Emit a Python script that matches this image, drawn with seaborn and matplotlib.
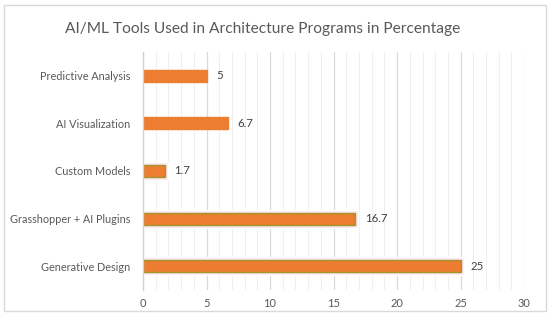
import seaborn as sns
import matplotlib.pyplot as plt
import pandas as pd
from matplotlib.patches import Rectangle
from matplotlib.ticker import MultipleLocator

tools = ["Predictive Analysis", "AI Visualization", "Custom Models",
         "Grasshopper + AI Plugins", "Generative Design"]
percent = [5, 6.7, 1.7, 16.7, 25]
value_labels = ["5", "6.7", "1.7", "16.7", "25"]
glow = [False, False, True, True, True]

df = pd.DataFrame({"tool": tools, "percent": percent})

sns.set_style("white")
plt.rcParams["font.family"] = ["Lato", "DejaVu Sans"]

fig = plt.figure(figsize=(5.5, 3.19), dpi=100)
ax = fig.add_axes([0.26, 0.091, 0.693, 0.746])

# faint pink glow behind some bars
sns.barplot(data=df, x="percent", y="tool", orient="h", color="#fde6f0",
            width=0.38, saturation=1, ax=ax, zorder=1)
for p, g in zip(ax.patches, glow):
    p.set_visible(g)
    p.set_width(p.get_width() + 0.25)
n_glow = len(ax.patches)

sns.barplot(data=df, x="percent", y="tool", orient="h", color="#ed7d31",
            width=0.25, saturation=1, ax=ax, zorder=2)
for p, g in zip(ax.patches[n_glow:], glow):
    p.set_edgecolor("#a0962c" if g else "#ed7d31")
    p.set_linewidth(1.0)

for i, (v, lab) in enumerate(zip(percent, value_labels)):
    ax.text(v + 0.75, i, lab, va="center", ha="left", fontsize=8.2, color="#404040")

ax.set_xlim(0, 30)
ax.set_ylim(4.5, -0.5)
ax.xaxis.set_major_locator(MultipleLocator(5))
ax.xaxis.set_minor_locator(MultipleLocator(1))
ax.grid(which="major", axis="x", color="#d9d9d9", lw=0.9, zorder=0)
ax.grid(which="minor", axis="x", color="#efefef", lw=0.8, zorder=0)
ax.set_axisbelow(True)

for s in ["top", "right", "bottom"]:
    ax.spines[s].set_visible(False)
ax.spines["left"].set_color("#d0d0d0")
ax.spines["left"].set_linewidth(0.9)

ax.set_yticks(range(len(tools)))
ax.set_yticklabels(tools)
ax.set_yticks([i + 0.5 for i in range(-1, len(tools))], minor=True)
ax.tick_params(axis="y", which="major", length=0, pad=9, labelsize=7.8, labelcolor="#595959")
ax.tick_params(axis="y", which="minor", length=4, color="#d0d0d0", width=0.9)
ax.tick_params(axis="x", which="both", length=0, pad=6, labelsize=8, labelcolor="#595959")
ax.set_xlabel("")
ax.set_ylabel("")

fig.text(0.477, 0.91, "AI/ML Tools Used in Architecture Programs in Percentage",
         ha="center", va="center", fontsize=11.2, color="#595959")

fig.patches.append(Rectangle((0.008, 0.025), 0.984, 0.96, transform=fig.transFigure,
                             fill=False, edgecolor="#d9d9d9", lw=1))

fig.savefig("out.png", dpi=100)
plt.close(fig)
